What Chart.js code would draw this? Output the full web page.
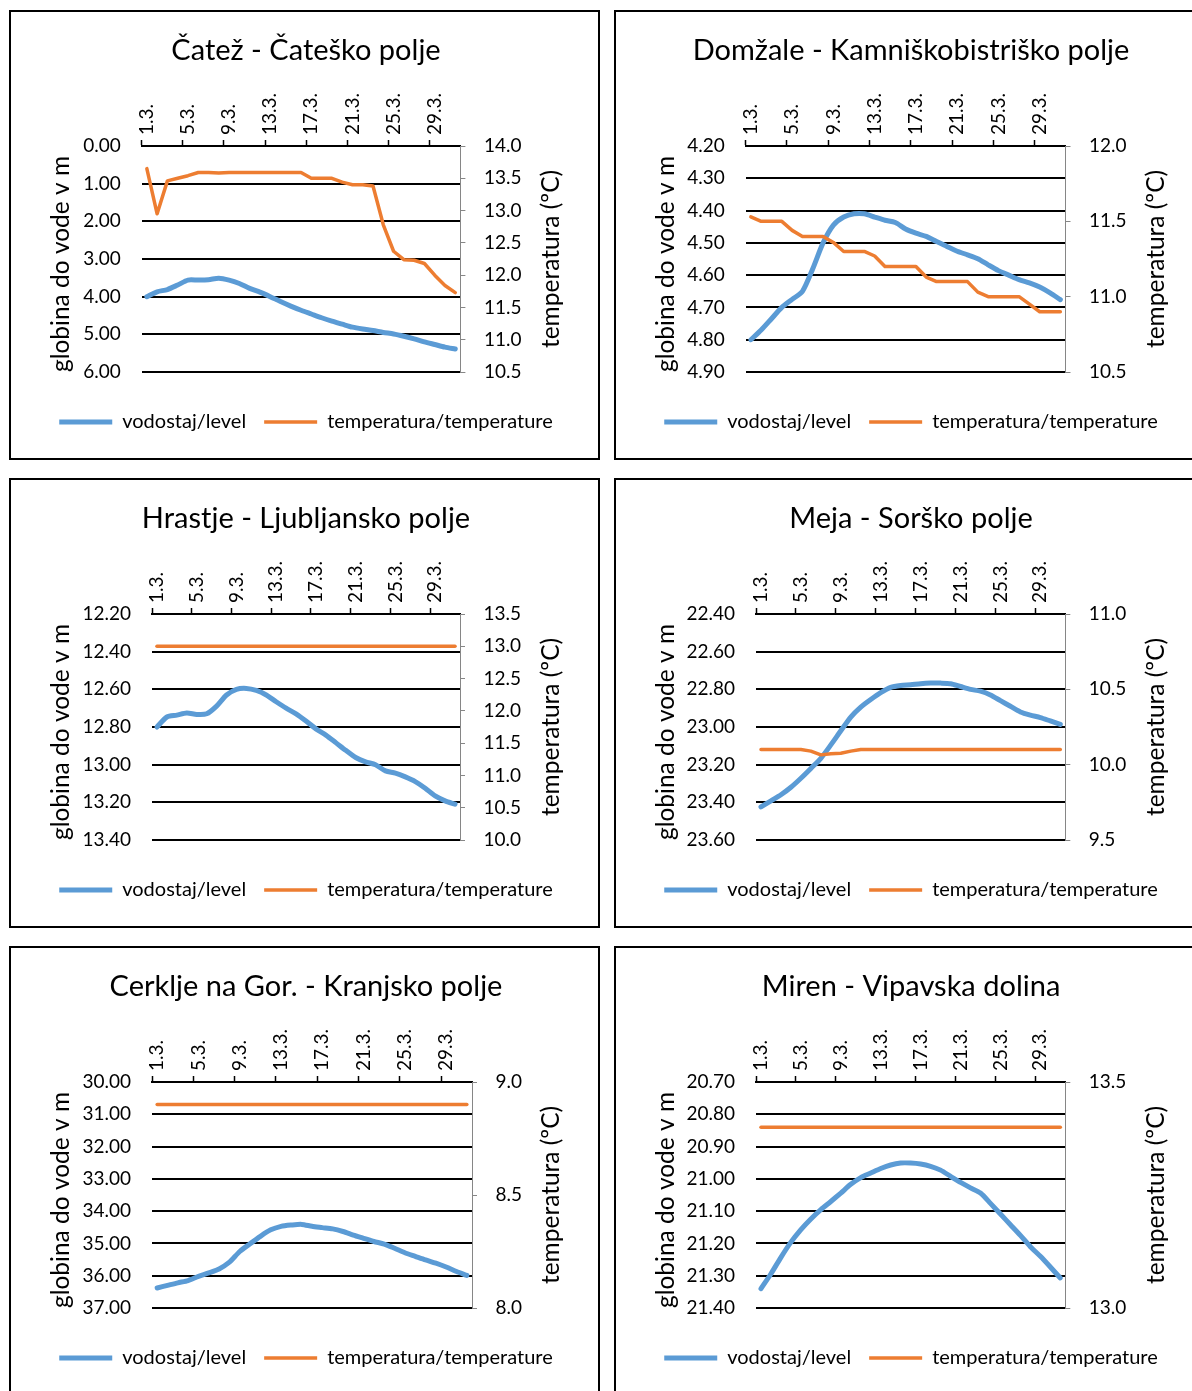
<!DOCTYPE html>
<html>
<head>
<meta charset="utf-8">
<title>Vodostaj in temperatura podzemne vode - marec</title>
<script src="https://cdn.jsdelivr.net/npm/chart.js"></script>
<style>
    body { margin: 0; width: 1192px; height: 1391px; overflow: hidden; background: #fff; position: relative; }
    .panel { position: absolute; width: 591px; height: 450px; box-sizing: border-box; border: 2px solid #000; background: #fff; }
    .panel canvas { display: block; }
</style>
</head>
<body>
<div class="panel" style="left:9px; top:10px;"><canvas id="c1" width="587" height="446"></canvas></div>
<div class="panel" style="left:614px; top:10px;"><canvas id="c2" width="587" height="446"></canvas></div>
<div class="panel" style="left:9px; top:478px;"><canvas id="c3" width="587" height="446"></canvas></div>
<div class="panel" style="left:614px; top:478px;"><canvas id="c4" width="587" height="446"></canvas></div>
<div class="panel" style="left:9px; top:946px;"><canvas id="c5" width="587" height="446"></canvas></div>
<div class="panel" style="left:614px; top:946px;"><canvas id="c6" width="587" height="446"></canvas></div>
<script>
// categories (days of March)
const days = ['1.3.', '2.3.', '3.3.', '4.3.', '5.3.', '6.3.', '7.3.', '8.3.', '9.3.', '10.3.',
    '11.3.', '12.3.', '13.3.', '14.3.', '15.3.', '16.3.', '17.3.', '18.3.', '19.3.', '20.3.',
    '21.3.', '22.3.', '23.3.', '24.3.', '25.3.', '26.3.', '27.3.', '28.3.', '29.3.', '30.3.', '31.3.'];

// Čatež
const catezLevel = [4.00, 3.87, 3.81, 3.69, 3.56, 3.56, 3.55, 3.51, 3.56, 3.65, 3.78, 3.88, 4.00, 4.13, 4.25, 4.36,
    4.46, 4.56, 4.65, 4.73, 4.81, 4.86, 4.90, 4.95, 4.99, 5.05, 5.12, 5.20, 5.27, 5.34, 5.39];
const catezTemp = [13.65, 12.95, 13.46, 13.50, 13.54, 13.59, 13.59, 13.58, 13.59, 13.59, 13.59, 13.59, 13.59, 13.59, 13.59, 13.59,
    13.50, 13.50, 13.50, 13.44, 13.40, 13.40, 13.38, 12.78, 12.37, 12.24, 12.23, 12.18, 12.00, 11.84, 11.73];
const catezDepthTicks = [0, 1, 2, 3, 4, 5, 6];
const catezTempTicks = [10.5, 11, 11.5, 12, 12.5, 13, 13.5, 14];

// Domžale
const domzaleLevel = [4.80, 4.77, 4.735, 4.70, 4.675, 4.65, 4.58, 4.50, 4.445, 4.42, 4.41, 4.41, 4.42, 4.43, 4.437, 4.457,
    4.47, 4.48, 4.496, 4.511, 4.526, 4.537, 4.549, 4.568, 4.586, 4.60, 4.614, 4.624, 4.637, 4.655, 4.676];
const domzaleTemp = [11.53, 11.50, 11.50, 11.50, 11.44, 11.40, 11.40, 11.40, 11.36, 11.30, 11.30, 11.30, 11.27, 11.20, 11.20, 11.20,
    11.20, 11.13, 11.10, 11.10, 11.10, 11.10, 11.03, 11.00, 11.00, 11.00, 11.00, 10.95, 10.90, 10.90, 10.90];
const domzaleDepthTicks = [4.2, 4.3, 4.4, 4.5, 4.6, 4.7, 4.8, 4.9];
const domzaleTempTicks = [10.5, 11, 11.5, 12];

// Hrastje
const hrastjeLevel = [12.80, 12.747, 12.737, 12.726, 12.733, 12.73, 12.689, 12.63, 12.60, 12.595, 12.606, 12.63, 12.666, 12.70, 12.73, 12.768,
    12.81, 12.843, 12.883, 12.924, 12.962, 12.985, 13.00, 13.033, 13.045, 13.065, 13.09, 13.125, 13.166, 13.192, 13.21];
const hrastjeTemp = [13.0, 13.0, 13.0, 13.0, 13.0, 13.0, 13.0, 13.0, 13.0, 13.0, 13.0, 13.0, 13.0, 13.0, 13.0, 13.0,
    13.0, 13.0, 13.0, 13.0, 13.0, 13.0, 13.0, 13.0, 13.0, 13.0, 13.0, 13.0, 13.0, 13.0, 13.0];
const hrastjeDepthTicks = [12.2, 12.4, 12.6, 12.8, 13.0, 13.2, 13.4];
const hrastjeTempTicks = [10, 10.5, 11, 11.5, 12, 12.5, 13, 13.5];

// Meja
const mejaLevel = [23.424, 23.392, 23.36, 23.32, 23.272, 23.22, 23.166, 23.095, 23.02, 22.947, 22.894, 22.854, 22.818, 22.79, 22.78, 22.776,
    22.77, 22.767, 22.767, 22.77, 22.785, 22.80, 22.81, 22.83, 22.86, 22.89, 22.92, 22.937, 22.95, 22.968, 22.986];
const mejaTemp = [10.1, 10.1, 10.1, 10.1, 10.1, 10.09, 10.065, 10.073, 10.076, 10.09, 10.1, 10.1, 10.1, 10.1, 10.1, 10.1,
    10.1, 10.1, 10.1, 10.1, 10.1, 10.1, 10.1, 10.1, 10.1, 10.1, 10.1, 10.1, 10.1, 10.1, 10.1];
const mejaDepthTicks = [22.4, 22.6, 22.8, 23.0, 23.2, 23.4, 23.6];
const mejaTempTicks = [9.5, 10, 10.5, 11];

// Cerklje
const cerkljeLevel = [36.38, 36.30, 36.22, 36.15, 36.02, 35.91, 35.79, 35.58, 35.25, 35.01, 34.78, 34.58, 34.47, 34.43, 34.41, 34.47,
    34.51, 34.55, 34.63, 34.74, 34.84, 34.94, 35.02, 35.15, 35.29, 35.40, 35.51, 35.61, 35.73, 35.87, 35.99];
const cerkljeTemp = [8.9, 8.9, 8.9, 8.9, 8.9, 8.9, 8.9, 8.9, 8.9, 8.9, 8.9, 8.9, 8.9, 8.9, 8.9, 8.9,
    8.9, 8.9, 8.9, 8.9, 8.9, 8.9, 8.9, 8.9, 8.9, 8.9, 8.9, 8.9, 8.9, 8.9, 8.9];
const cerkljeDepthTicks = [30, 31, 32, 33, 34, 35, 36, 37];
const cerkljeTempTicks = [8, 8.5, 9];

// Miren
const mirenLevel = [21.34, 21.294, 21.243, 21.196, 21.157, 21.124, 21.095, 21.07, 21.044, 21.017, 20.996, 20.982, 20.968, 20.957, 20.951, 20.951,
    20.954, 20.961, 20.973, 20.992, 21.011, 21.028, 21.044, 21.076, 21.109, 21.142, 21.175, 21.21, 21.24, 21.273, 21.307];
const mirenTemp = [13.4, 13.4, 13.4, 13.4, 13.4, 13.4, 13.4, 13.4, 13.4, 13.4, 13.4, 13.4, 13.4, 13.4, 13.4, 13.4,
    13.4, 13.4, 13.4, 13.4, 13.4, 13.4, 13.4, 13.4, 13.4, 13.4, 13.4, 13.4, 13.4, 13.4, 13.4];
const mirenDepthTicks = [20.7, 20.8, 20.9, 21.0, 21.1, 21.2, 21.3, 21.4];
const mirenTempTicks = [13, 13.5];

const BLUE = '#5B9BD5';
const ORANGE = '#ED7D31';
const CANVAS_W = 587;
const PAD_LEFT = 3;
const TICK_SIZE = 19;

const panels = [
    { canvas: 'c1', title: 'Čatež - Čateško polje', level: catezLevel, temp: catezTemp, depthTicks: catezDepthTicks, tempTicks: catezTempTicks, plotLeft: 130.7, plotRight: 449.4 },
    { canvas: 'c2', title: 'Domžale - Kamniškobistriško polje', level: domzaleLevel, temp: domzaleTemp, depthTicks: domzaleDepthTicks, tempTicks: domzaleTempTicks, plotLeft: 129.7, plotRight: 449.5 },
    { canvas: 'c3', title: 'Hrastje - Ljubljansko polje', level: hrastjeLevel, temp: hrastjeTemp, depthTicks: hrastjeDepthTicks, tempTicks: hrastjeTempTicks, plotLeft: 141, plotRight: 449 },
    { canvas: 'c4', title: 'Meja - Sorško polje', level: mejaLevel, temp: mejaTemp, depthTicks: mejaDepthTicks, tempTicks: mejaTempTicks, plotLeft: 140, plotRight: 449.3 },
    { canvas: 'c5', title: 'Cerklje na Gor. - Kranjsko polje', level: cerkljeLevel, temp: cerkljeTemp, depthTicks: cerkljeDepthTicks, tempTicks: cerkljeTempTicks, plotLeft: 141, plotRight: 461 },
    { canvas: 'c6', title: 'Miren - Vipavska dolina', level: mirenLevel, temp: mirenTemp, depthTicks: mirenDepthTicks, tempTicks: mirenTempTicks, plotLeft: 140, plotRight: 449.3 }
];

// rotated axis titles (both read bottom-to-top, like the original)
const axisTitles = {
    id: 'axisTitles',
    afterDraw(chart, args, opts) {
        const ctx = chart.ctx;
        const a = chart.chartArea;
        const cy = (a.top + a.bottom) / 2;
        ctx.save();
        ctx.font = opts.size + 'px Lato';
        ctx.fillStyle = '#000';
        ctx.textAlign = 'center';
        ctx.textBaseline = 'middle';
        [[opts.leftX, cy + 5, opts.left], [opts.rightX, cy, opts.right]].forEach(([x, y, t]) => {
            ctx.save();
            ctx.translate(x, y);
            ctx.rotate(-Math.PI / 2);
            ctx.fillText(t, 0, 0);
            ctx.restore();
        });
        ctx.restore();
    }
};

Chart.defaults.font.family = 'Lato, sans-serif';
Chart.defaults.color = '#000';

function buildPanel(p) {
    const ctx = document.getElementById(p.canvas).getContext('2d');
    const dTicks = p.depthTicks;
    const tTicks = p.tempTicks;
    return new Chart(ctx, {
        type: 'line',
        data: {
            labels: days,
            datasets: [{
                label: 'vodostaj/level',
                data: p.level,
                yAxisID: 'y',
                order: 1,
                borderColor: BLUE,
                backgroundColor: BLUE,
                borderWidth: 5,
                borderCapStyle: 'round',
                borderJoinStyle: 'round',
                tension: 0.25,
                pointRadius: 0
            }, {
                label: 'temperatura/temperature',
                data: p.temp,
                yAxisID: 'y1',
                order: 0,
                borderColor: ORANGE,
                backgroundColor: ORANGE,
                borderWidth: 3.5,
                borderCapStyle: 'round',
                borderJoinStyle: 'round',
                tension: 0,
                pointRadius: 0
            }]
        },
        options: {
            responsive: false,
            animation: false,
            events: [],
            layout: { padding: { top: 0, left: PAD_LEFT, right: 0, bottom: 16 } },
            scales: {
                x: {
                    position: 'top',
                    offset: true,
                    grid: {
                        offset: true,
                        drawOnChartArea: false,
                        tickLength: 6,
                        tickWidth: 1.5,
                        tickColor: c => (c.index % 4 === 0 ? '#000' : 'rgba(0,0,0,0)')
                    },
                    border: { display: true, color: '#000', width: 2 },
                    ticks: {
                        autoSkip: false,
                        minRotation: 90,
                        maxRotation: 90,
                        padding: 5,
                        labelOffset: TICK_SIZE * 1.2,
                        font: { size: TICK_SIZE },
                        callback: (v, i) => (i % 4 === 0 ? days[i] : '')
                    },
                    afterFit: s => { s.height = 77.8; }
                },
                y: {
                    position: 'left',
                    reverse: true,
                    min: dTicks[0],
                    max: dTicks[dTicks.length - 1],
                    afterBuildTicks: s => { s.ticks = dTicks.map(v => ({ value: v })); },
                    grid: { color: '#000', lineWidth: 2, drawTicks: false },
                    border: { display: false },
                    ticks: { padding: 21, font: { size: TICK_SIZE }, callback: v => v.toFixed(2) },
                    afterFit: s => { s.width = p.plotLeft - PAD_LEFT; }
                },
                y1: {
                    position: 'right',
                    min: tTicks[0],
                    max: tTicks[tTicks.length - 1],
                    afterBuildTicks: s => { s.ticks = tTicks.map(v => ({ value: v })); },
                    grid: { drawOnChartArea: false, color: '#868686', tickLength: 5, lineWidth: 1 },
                    border: { display: true, color: '#868686', width: 1 },
                    ticks: { padding: 18.5, font: { size: TICK_SIZE }, callback: v => v.toFixed(1) },
                    afterFit: s => { s.width = CANVAS_W - p.plotRight; }
                }
            },
            plugins: {
                tooltip: { enabled: false },
                title: {
                    display: true,
                    text: p.title,
                    color: '#000',
                    font: { size: 29, weight: 'normal' },
                    padding: { top: 21.4, bottom: 0 }
                },
                legend: {
                    position: 'bottom',
                    title: { display: true, text: '', font: { size: 10, lineHeight: 1 }, padding: { top: 12, bottom: 0 } },
                    labels: {
                        usePointStyle: true,
                        pointStyle: 'line',
                        pointStyleWidth: 53,
                        padding: 18,
                        font: { size: 20 },
                        color: '#000',
                        sort: (a, b) => a.datasetIndex - b.datasetIndex
                    }
                },
                axisTitles: { leftX: 50.5, rightX: 540, size: 24.5, left: 'globina do vode v m', right: 'temperatura (ºC)' }
            }
        },
        plugins: [axisTitles]
    });
}

document.addEventListener('DOMContentLoaded', () => {
    panels.forEach(buildPanel);
});
</script>
</body>
</html>
